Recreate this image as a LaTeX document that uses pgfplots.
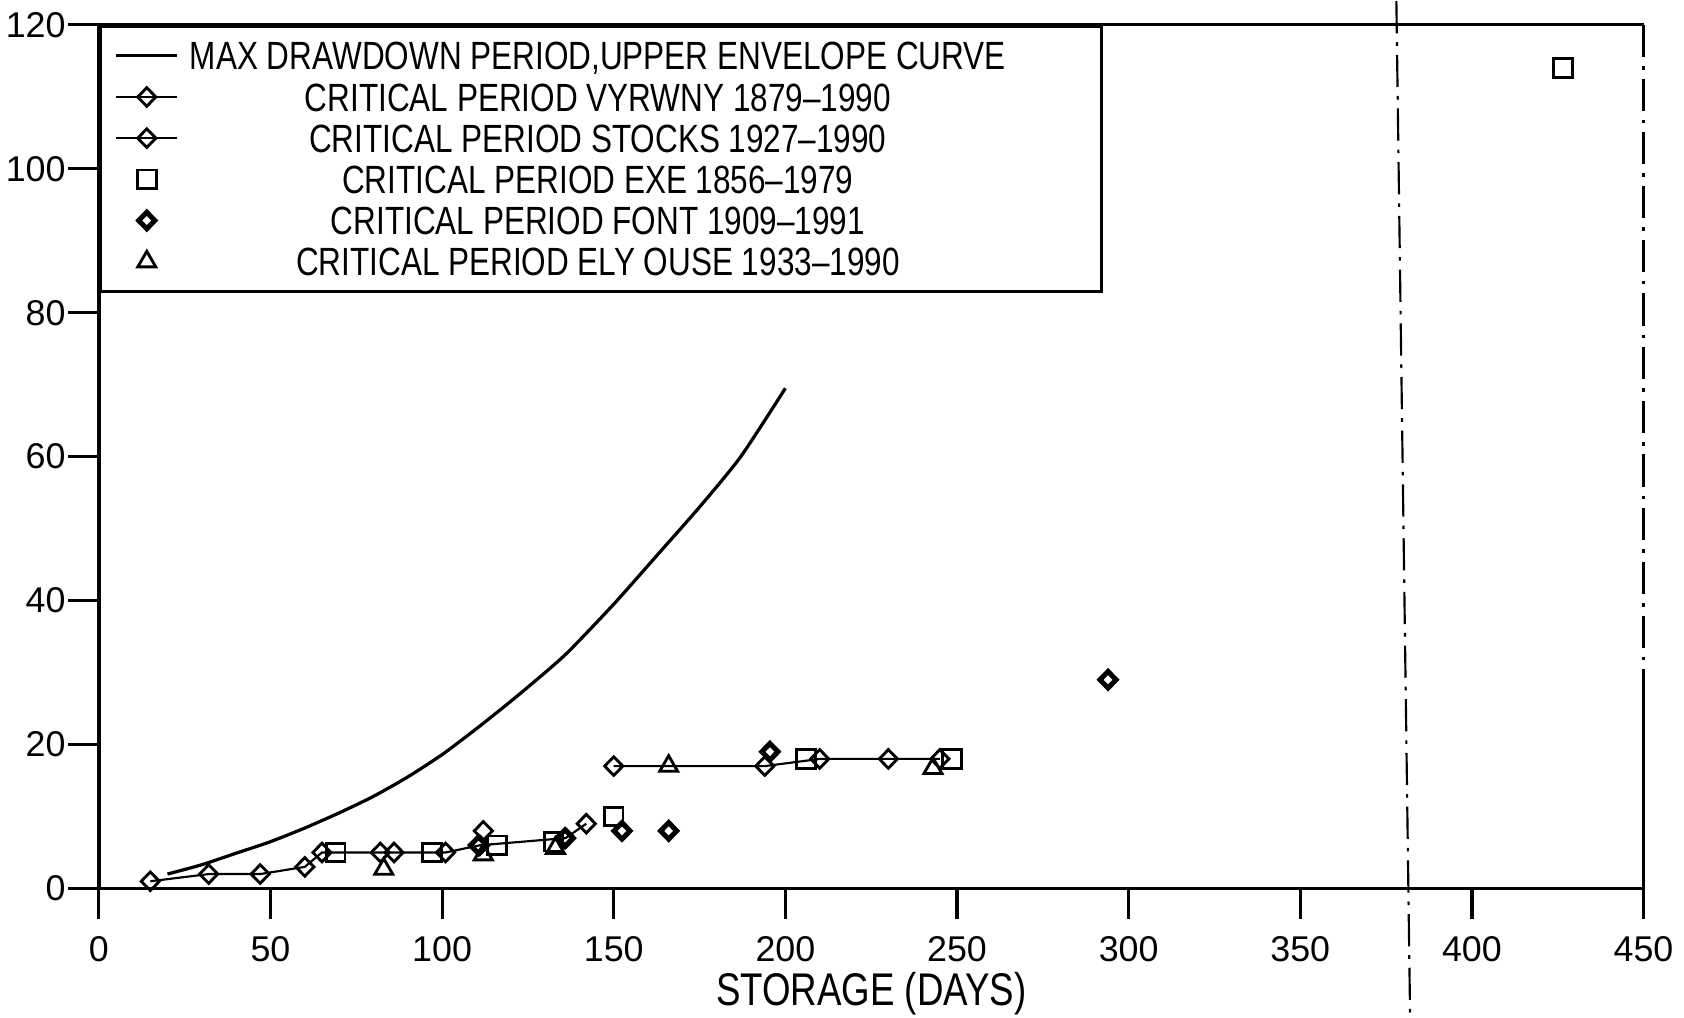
\documentclass[border=0pt]{standalone}
\usepackage{pgfplots}
\pgfplotsset{compat=1.18}
\usepackage{fontspec}
\setmainfont{Liberation Sans}
\newfontfamily\condfont{Liberation Sans}[FakeStretch=0.8]
\newcommand{\LE}[1]{\hspace*{2pt}\makebox[227pt][c]{#1}\hspace*{21.6pt}}
\begin{document}
\begin{tikzpicture}
\begin{axis}[
  scale only axis, width=431.4pt, height=241.2pt,
  xmin=0, xmax=450, ymin=0, ymax=120,
  xtick={0,50,...,450}, ytick={0,20,...,120},
  tick align=outside, major tick length=8.5pt,
  xtick pos=left, ytick pos=left,
  tick style={line width=0.9pt, black},
  axis x line*=bottom, axis y line*=left,
  axis line style={line width=1pt, -},
  every outer x axis line/.append style={-},
  every outer y axis line/.append style={-},
  clip=false,
  /pgf/number format/assume math mode=true,
  ticklabel style={font=\fontsize{10}{10}\selectfont, inner sep=0.6pt},
  xticklabel style={yshift=-4pt},
  xlabel={STORAGE (DAYS)},
  xlabel style={font=\condfont\fontsize{12.8}{12.8}\selectfont, inner sep=0pt,
    at={(axis description cs:0.5,0)}, anchor=north, yshift=-23.2pt},
  legend cell align=left,
  legend style={at={(0,1)}, anchor=north west, draw=black, line width=0.8pt,
    inner xsep=4pt, inner ysep=2.5pt, row sep=0pt,
    font=\condfont\fontsize{11}{11}\selectfont,
    nodes={inner ysep=1.8pt, inner xsep=1.5pt, text height=7.9pt, text depth=0pt}},
  unbounded coords=jump,
]
% max drawdown upper envelope curve
\addplot[black, line width=0.9pt, smooth, tension=0.4] coordinates {
 (20,2) (30,3.3) (40,4.9) (50,6.5) (60,8.4) (70,10.5) (80,12.8) (90,15.5)
 (100,18.6) (110,22.2) (120,26) (130,30) (137,33) (150,39.5) (163,46.5)
 (175,53) (187,60) (200,69.5)};
\addlegendentry{\LE{MAX DRAWDOWN PERIOD,UPPER ENVELOPE CURVE}}
% Vyrwny
\addplot[black, line width=0.6pt, mark=diamond, mark size=2.6pt,
  mark options={solid, fill=white, line width=0.8pt, xscale=1.3}] coordinates {
 (15,1) (32,2) (47,2) (60,3) (65,5) (82,5) (86,5) (101,5) (111,6) (136,7) (142,9)};
\addlegendentry{\LE{CRITICAL PERIOD VYRWNY 1879\textendash1990}}
% Stocks
\addplot[black, line width=0.6pt, mark=diamond, mark size=2.6pt,
  mark options={solid, fill=white, line width=0.8pt, xscale=1.3}] coordinates {
 (112,8) (130,nan) (150,17) (194,17) (210,18) (230,18) (245,18)};
\addlegendentry{\LE{CRITICAL PERIOD STOCKS 1927\textendash1990}}
% Exe
\addplot[black, only marks, mark=square, mark size=2.6pt,
  mark options={solid, fill=white, line width=0.8pt}] coordinates {
 (69,5) (97,5) (116,6) (132.5,6.5) (150,10) (206,18) (248.5,18) (426.5,114)};
\addlegendentry{\LE{CRITICAL PERIOD EXE 1856\textendash1979}}
% Font
\addplot[black, only marks, mark=diamond, mark size=2.3pt,
  mark options={solid, fill=white, line width=1.4pt, xscale=1.3}] coordinates {
 (110.6,6) (135.8,7) (152.4,8) (166,8) (195.5,19) (294,29)};
\addlegendentry{\LE{CRITICAL PERIOD FONT 1909\textendash1991}}
% Ely Ouse
\addplot[black, only marks, mark=triangle, mark size=2.9pt,
  mark options={solid, fill=white, line width=0.8pt}] coordinates {
 (83,2.7) (112,4.7) (133,5.6) (166,17) (243,16.7)};
\addlegendentry{\LE{CRITICAL PERIOD ELY OUSE 1933\textendash1990}}
% frame top and right (scan-like)
\draw[line width=0.9pt] (axis cs:0,120) -- (axis cs:450,120);
\draw[line width=0.7pt, dash pattern=on 9pt off 2.5pt on 1pt off 2.5pt] (axis cs:450,120) -- (axis cs:450,28);
\draw[line width=0.9pt] (axis cs:450,28) -- (axis cs:450,0);
% vertical dash-dot line
\draw[line width=0.6pt, dash pattern=on 9pt off 2.5pt on 1pt off 2.5pt] (axis cs:378,123.3) -- (axis cs:382,-17.8);
% bounding box
\path (axis cs:-28.8,-17.8) rectangle (axis cs:461.8,123.3);
\end{axis}
\end{tikzpicture}
\end{document}
